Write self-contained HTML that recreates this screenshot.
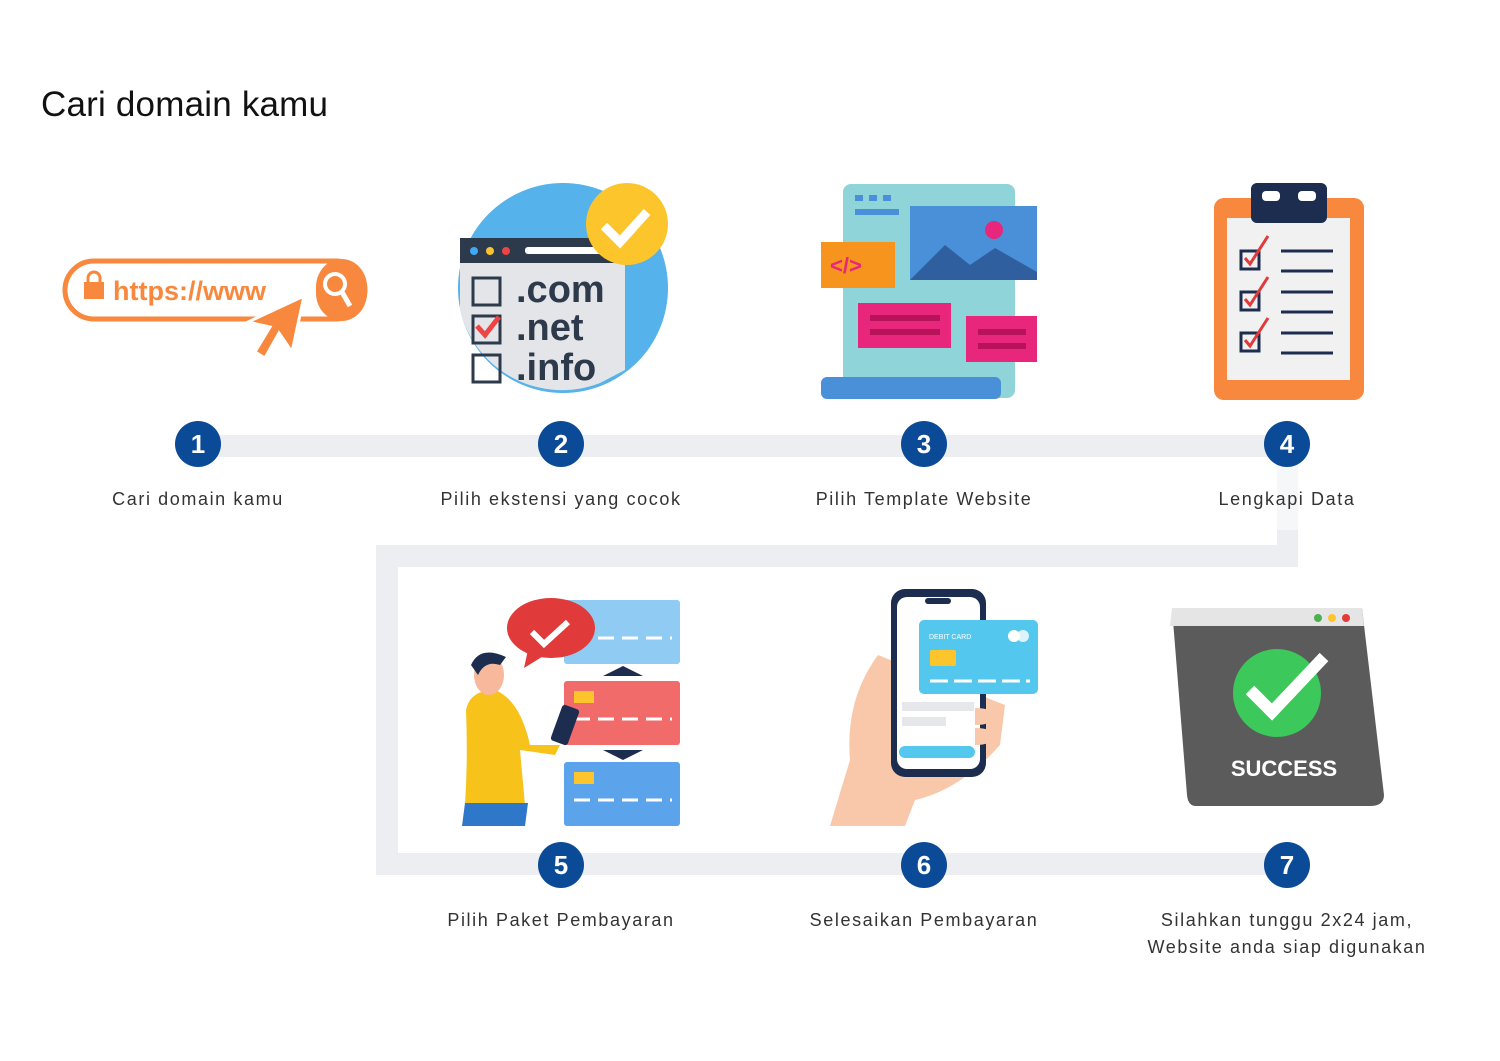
<!DOCTYPE html>
<html><head><meta charset="utf-8"><style>
body{margin:0;width:1500px;height:1061px;background:#fff;position:relative;overflow:hidden;font-family:"Liberation Sans",sans-serif}
.t{position:absolute;font-size:18px;color:#333;letter-spacing:1.6px;text-align:center;width:360px;line-height:27px}
.c{position:absolute;width:46px;height:46px;border-radius:50%;background:#0b4a97;color:#fff;font-weight:bold;font-size:26px;text-align:center;line-height:46px}
.b{position:absolute;background:#eceef2}
</style></head><body>
<div style="position:absolute;left:41px;top:85px;font-size:35px;color:#111;letter-spacing:0.2px">Cari domain kamu</div>
<div class="b" style="left:198px;top:435px;width:1089px;height:22px"></div>
<div class="b" style="left:1277px;top:457px;width:21px;height:110px;background:#f6f7f9"></div>
<div class="b" style="left:1277px;top:530px;width:21px;height:37px"></div>
<div class="b" style="left:376px;top:545px;width:922px;height:22px"></div>
<div class="b" style="left:376px;top:545px;width:22px;height:330px"></div>
<div class="b" style="left:376px;top:853px;width:911px;height:22px"></div>
<div class="c" style="left:175px;top:421px">1</div>
<div class="c" style="left:538px;top:421px">2</div>
<div class="c" style="left:901px;top:421px">3</div>
<div class="c" style="left:1264px;top:421px">4</div>
<div class="c" style="left:538px;top:842px">5</div>
<div class="c" style="left:901px;top:842px">6</div>
<div class="c" style="left:1264px;top:842px">7</div>
<div class="t" style="left:18px;top:486px">Cari domain kamu</div>
<div class="t" style="left:381px;top:486px">Pilih ekstensi yang cocok</div>
<div class="t" style="left:744px;top:486px">Pilih Template Website</div>
<div class="t" style="left:1107px;top:486px">Lengkapi Data</div>
<div class="t" style="left:381px;top:907px">Pilih Paket Pembayaran</div>
<div class="t" style="left:744px;top:907px">Selesaikan Pembayaran</div>
<div class="t" style="left:1107px;top:907px">Silahkan tunggu 2x24 jam,<br>Website anda siap digunakan</div>
<svg width="1500" height="1061" style="position:absolute;left:0;top:0">
<rect x="65" y="261" width="300" height="58" rx="29" fill="#fff" stroke="#f7883d" stroke-width="5"/>
<rect x="316" y="259" width="51" height="62" rx="28" fill="#f7883d"/>
<circle cx="335" cy="284" r="10" fill="none" stroke="#fff" stroke-width="4"/><line x1="342" y1="292" x2="350" y2="306" stroke="#fff" stroke-width="5"/>
<rect x="84" y="282" width="20" height="17" fill="#f7883d"/><path d="M88 283v-5a6 6 0 0 1 12 0v5" stroke="#f7883d" stroke-width="3" fill="none"/>
<text x="113" y="300" font-size="27" font-weight="bold" fill="#f7883d">https://www</text>
<path d="M304 296 L292 352 L279 333 L265 358 L255 352 L270 327 L248 322 Z" fill="#f7883d" stroke="#fff" stroke-width="3"/>
<circle cx="563" cy="288" r="105" fill="#55b2ea"/>
<path d="M460 240 H625 V370 L600 383 A105 105 0 0 1 460 310 Z" fill="#e4e5e8"/>
<rect x="460" y="238" width="165" height="25" fill="#2d3a4c"/>
<circle cx="474" cy="251" r="4" fill="#3fa9f5"/><circle cx="490" cy="251" r="4" fill="#f9c430"/><circle cx="506" cy="251" r="4" fill="#ef4444"/>
<rect x="525" y="247" width="90" height="7" rx="3" fill="#fff"/>
<text x="516" y="302" font-size="38" font-weight="bold" fill="#2d3a4c">.com</text>
<text x="516" y="340" font-size="38" font-weight="bold" fill="#2d3a4c">.net</text>
<text x="516" y="380" font-size="38" font-weight="bold" fill="#2d3a4c">.info</text>
<rect x="473" y="278" width="27" height="27" fill="none" stroke="#2d3a4c" stroke-width="3"/>
<rect x="473" y="316" width="27" height="27" fill="none" stroke="#2d3a4c" stroke-width="3"/>
<path d="M477 326l8 9 14-18" stroke="#ef4444" stroke-width="5" fill="none"/>
<rect x="473" y="355" width="27" height="27" fill="none" stroke="#2d3a4c" stroke-width="3"/>
<circle cx="627" cy="224" r="41" fill="#fdc52c"/><path d="M604 226l16 16 27-30" stroke="#fff" stroke-width="9" fill="none"/>
<rect x="843" y="184" width="172" height="214" rx="8" fill="#8fd4d9"/>
<rect x="821" y="377" width="180" height="22" rx="6" fill="#4a90d9"/>
<rect x="855" y="195" width="8" height="6" fill="#4a90d9"/><rect x="869" y="195" width="8" height="6" fill="#4a90d9"/><rect x="883" y="195" width="8" height="6" fill="#4a90d9"/>
<rect x="855" y="209" width="44" height="6" fill="#4a90d9"/>
<rect x="910" y="206" width="127" height="74" fill="#4a90d9"/>
<path d="M910 280 L945 245 L970 265 L995 248 L1037 272 V280Z" fill="#2f5f9e"/>
<circle cx="994" cy="230" r="9" fill="#e8267b"/>
<rect x="821" y="242" width="74" height="46" fill="#f7941d"/><text x="830" y="273" font-size="22" font-weight="bold" fill="#e8267b">&lt;/&gt;</text>
<rect x="858" y="303" width="93" height="45" fill="#e8267b"/><rect x="966" y="316" width="71" height="46" fill="#e8267b"/>
<rect x="870" y="315" width="70" height="6" fill="#b8125a"/><rect x="870" y="329" width="70" height="6" fill="#b8125a"/>
<rect x="978" y="329" width="48" height="6" fill="#b8125a"/><rect x="978" y="343" width="48" height="6" fill="#b8125a"/>
<rect x="1214" y="198" width="150" height="202" rx="10" fill="#f7883d"/>
<rect x="1227" y="218" width="123" height="162" fill="#f1f1f1"/>
<rect x="1251" y="183" width="76" height="40" rx="6" fill="#1d2d4f"/>
<rect x="1262" y="191" width="18" height="10" rx="4" fill="#fff"/><rect x="1298" y="191" width="18" height="10" rx="4" fill="#fff"/>
<g stroke="#1d2d4f" stroke-width="3" fill="none">
<rect x="1241" y="251" width="18" height="18"/><rect x="1241" y="292" width="18" height="18"/><rect x="1241" y="333" width="18" height="18"/>
<line x1="1281" y1="251" x2="1333" y2="251"/><line x1="1281" y1="271" x2="1333" y2="271"/>
<line x1="1281" y1="292" x2="1333" y2="292"/><line x1="1281" y1="312" x2="1333" y2="312"/>
<line x1="1281" y1="333" x2="1333" y2="333"/><line x1="1281" y1="353" x2="1333" y2="353"/>
</g>
<g stroke="#e03a3a" stroke-width="3" fill="none"><path d="M1245 258l5 6 18-28"/><path d="M1245 299l5 6 18-28"/><path d="M1245 340l5 6 18-28"/></g>
<rect x="564" y="600" width="116" height="64" rx="3" fill="#8fcbf2"/>
<rect x="564" y="681" width="116" height="64" rx="3" fill="#f26b6b"/>
<rect x="564" y="762" width="116" height="64" rx="3" fill="#5ba3ea"/>
<rect x="574" y="691" width="20" height="12" fill="#fdc52c"/><rect x="574" y="772" width="20" height="12" fill="#fdc52c"/>
<g stroke="#fff" stroke-width="3"><line x1="574" y1="638" x2="672" y2="638" stroke-dasharray="16 8"/><line x1="574" y1="719" x2="672" y2="719" stroke-dasharray="16 8"/><line x1="574" y1="800" x2="672" y2="800" stroke-dasharray="16 8"/></g>
<path d="M603 676h40l-20-10z M603 750h40l-20 10z" fill="#1d2d4f"/>
<ellipse cx="551" cy="628" rx="44" ry="30" fill="#e03a3a"/><path d="M528 650 L524 668 L545 655Z" fill="#e03a3a"/>
<path d="M532 632l12 12 24-22" stroke="#fff" stroke-width="6" fill="none"/>
<path d="M466 710 Q470 690 495 690 Q520 700 530 745 L560 745 L555 755 L520 750 L525 805 L465 805 Q468 760 466 710Z" fill="#f7c21a"/>
<path d="M465 803 H528 L525 826 H462Z" fill="#2f78c9"/>
<ellipse cx="489" cy="675" rx="15" ry="20" fill="#f7b89b"/><path d="M471 665 Q480 645 506 657 L500 665 Q485 660 478 675Z" fill="#1d2d4f"/>
<rect x="556" y="706" width="18" height="38" rx="3" fill="#1d2d4f" transform="rotate(20 565 725)"/>
<path d="M878 655 Q845 700 850 760 L830 826 H905 L915 800 Q960 790 1000 745 L1005 705 Z" fill="#f9c8ab"/>
<rect x="891" y="589" width="95" height="188" rx="14" fill="#1d2d4f"/>
<rect x="897" y="597" width="83" height="172" rx="10" fill="#fff"/>
<rect x="925" y="598" width="26" height="6" rx="3" fill="#1d2d4f"/>
<rect x="919" y="620" width="119" height="74" rx="5" fill="#54c7ef"/>
<text x="929" y="639" font-size="7" fill="#fff">DEBIT CARD</text>
<rect x="930" y="650" width="26" height="16" rx="2" fill="#fdc52c"/>
<circle cx="1014" cy="636" r="6" fill="#fff"/><circle cx="1023" cy="636" r="6" fill="#fff" opacity=".8"/>
<line x1="930" y1="681" x2="1030" y2="681" stroke="#fff" stroke-width="3" stroke-dasharray="18 6"/>
<rect x="902" y="702" width="72" height="9" fill="#e5e7eb"/><rect x="902" y="717" width="44" height="9" fill="#e5e7eb"/>
<rect x="899" y="746" width="76" height="12" rx="6" fill="#54c7ef"/>
<path d="M975 708 q18 0 18 8 q0 9-18 9z M975 728 q18 0 18 8 q0 9-18 9z" fill="#f9c8ab"/>
<path d="M1172 608 H1362 L1384 795 Q1384 806 1370 806 H1196 Q1188 806 1187 795 Z" fill="#5b5b5b"/>
<path d="M1172 608 H1362 L1364 626 H1170Z" fill="#e5e5e5"/>
<circle cx="1318" cy="618" r="4" fill="#4caf50"/><circle cx="1332" cy="618" r="4" fill="#fdc52c"/><circle cx="1346" cy="618" r="4" fill="#e53935"/>
<circle cx="1277" cy="693" r="44" fill="#3cc85a"/>
<path d="M1250 690l22 22 52-55" stroke="#fff" stroke-width="12" fill="none"/>
<text x="1284" y="776" font-size="22" font-weight="bold" fill="#fff" text-anchor="middle">SUCCESS</text>
</svg>
</body></html>
